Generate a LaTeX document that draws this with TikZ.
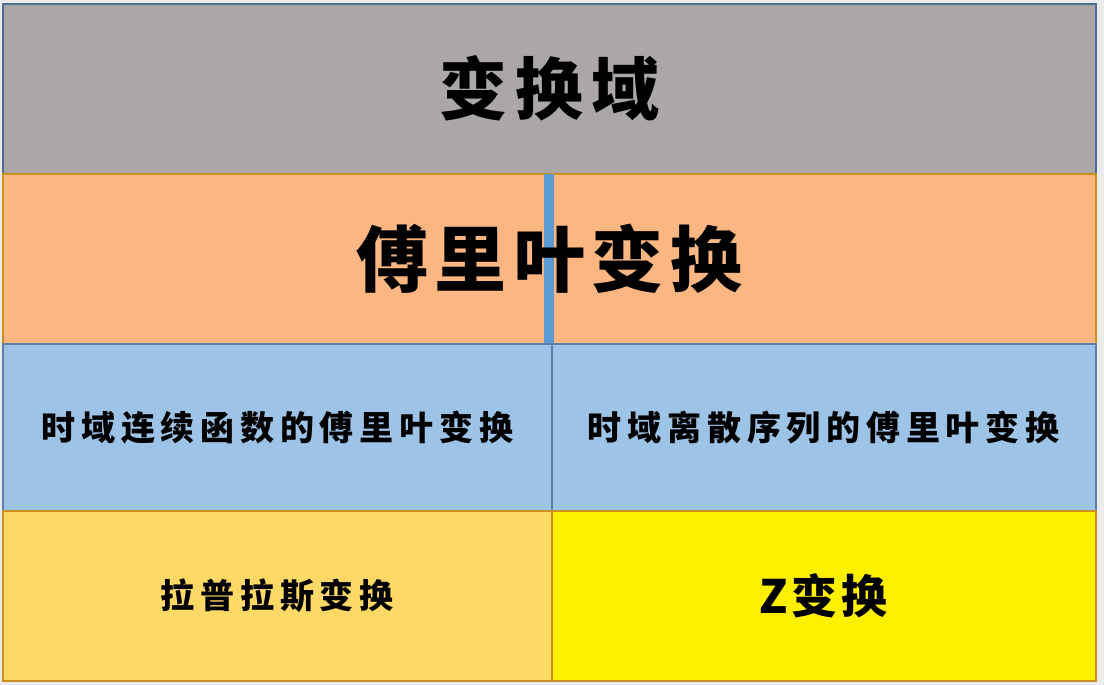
\documentclass[tikz,border=0pt]{standalone}
\usepackage{fontspec}
\usetikzlibrary{positioning}
\newfontfamily\cjk{Noto Sans CJK SC}
\definecolor{page}{HTML}{EBEBEB}
\definecolor{grey}{HTML}{ACA7A7}
\definecolor{slate}{HTML}{4E6D94}
\definecolor{peach}{HTML}{FBB682}
\definecolor{gold}{HTML}{C9921F}
\definecolor{sky}{HTML}{9DC3E6}
\definecolor{steel}{HTML}{5B80AE}
\definecolor{bar}{HTML}{5B9BD5}
\definecolor{sand}{HTML}{FFD966}
\definecolor{lemon}{HTML}{FFF000}

\begin{document}
\begin{tikzpicture}[x=0.5pt,y=-0.5pt,
  cell/.style={anchor=north west,inner sep=0pt,line width=0.75pt,text=black},
  big/.style={font=\cjk\bfseries\fontsize{34}{34}\selectfont\addfontfeature{LetterSpace=12}},
  small/.style={font=\cjk\bfseries\fontsize{17}{17}\selectfont\addfontfeature{LetterSpace=17}}]
\fill[page] (0,0) rectangle (1104,685);
% top row
\node[cell,big,draw=slate,fill=grey,minimum width=546.5pt,minimum height=85pt] (dom) at (2,3) {变换域};
% fourier row
\node[cell,draw=gold,fill=peach,minimum width=546.5pt,minimum height=85pt] (ft) at (2,173) {};
\node[cell,fill=bar,minimum width=5pt,minimum height=85pt] (bar) at (543,173) {};
\node[big,font=\cjk\bfseries\fontsize{36}{36}\selectfont\addfontfeature{LetterSpace=9}] (ftlabel) at (ft.center) {傅里叶变换};
% continuous / discrete
\node[cell,small,draw=steel,fill=sky,minimum width=274.5pt,minimum height=83.5pt] (cont) at (2,343) {时域连续函数的傅里叶变换};
\node[cell,small,draw=steel,fill=sky,minimum width=272pt,minimum height=83.5pt] (disc) at (551,343) {时域离散序列的傅里叶变换};
% laplace / z
\node[cell,small,draw=gold,fill=sand,minimum width=274.5pt,minimum height=85pt] (lap) at (2,510) {拉普拉斯变换};
\node[cell,draw=gold,fill=lemon,minimum width=272pt,minimum height=85pt,font=\cjk\bfseries\fontsize{23}{23}\selectfont\addfontfeature{LetterSpace=8}] (zt) at (551,510) {Z变换};
\end{tikzpicture}
\end{document}
